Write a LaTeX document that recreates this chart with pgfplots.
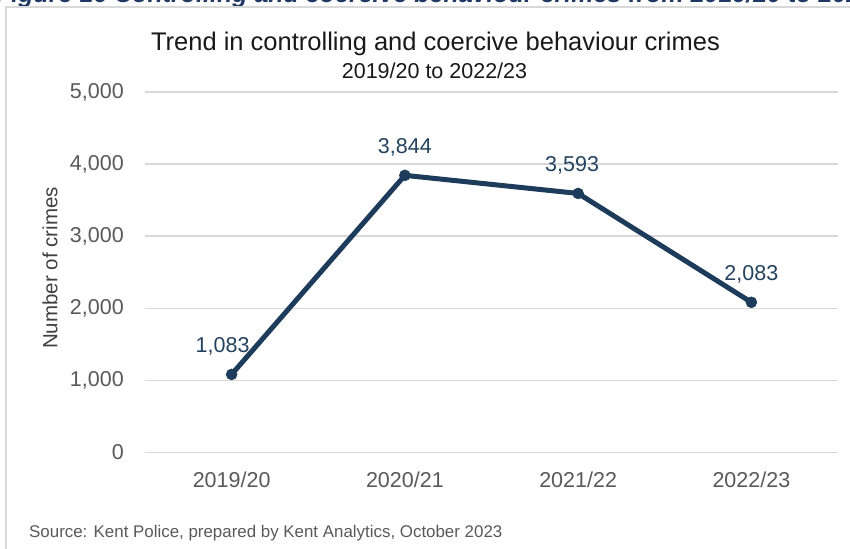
\documentclass[border=0pt]{standalone}
\usepackage{fontspec}
\setmainfont{Liberation Sans}
\usepackage{pgfplots}
\pgfplotsset{compat=1.18}
\usepackage{pgfplotstable}
\definecolor{navy}{HTML}{1D3C5B}
\definecolor{lblblue}{HTML}{24435F}
\definecolor{tickgray}{HTML}{595959}
\definecolor{labgray}{HTML}{404040}
\definecolor{gridgray}{HTML}{D9D9D9}
\definecolor{capblue}{HTML}{1F3864}
\definecolor{framegray}{HTML}{D9D9D9}

\pgfplotstableread{
x y dx
0 1083 -9
1 3844 0
2 3593 -6
3 2083 0
}\crimes

\begin{document}
\begin{tikzpicture}[x=1bp,y=1bp]
\begin{axis}[
  width=693bp, height=360.5bp, scale only axis,
  xmin=-0.5, xmax=3.5, ymin=0, ymax=5000,
  xtick={0,1,2,3}, xticklabels={2019/20,2020/21,2021/22,2022/23},
  ytick={0,1000,...,5000},
  axis line style={draw=none}, major tick length=0pt,
  ymajorgrids, grid style={gridgray, line width=1.5bp},
  /pgf/number format/1000 sep={,},
  /pgf/number format/assume math mode=true,
  yticklabel style={font=\fontsize{21.5bp}{26bp}\selectfont, text=tickgray, inner sep=0pt, anchor=east, xshift=-21bp},
  xticklabel style={font=\fontsize{21.5bp}{26bp}\selectfont, text=tickgray, inner sep=0pt, anchor=north, yshift=-19bp},
  ylabel={Number of crimes},
  ylabel style={at={(axis description cs:-0.137,0.512)}, anchor=center, font=\fontsize{20.5bp}{24bp}\selectfont, text=labgray},
  clip=false,
]
\addplot[navy, line width=5bp, mark=*, mark size=5.5bp,
  mark options={solid, fill=navy, draw=navy, line width=0.5bp},
  nodes near coords,
  visualization depends on={\thisrow{dx}\as\dx},
  nodes near coords style={font=\fontsize{21.5bp}{26bp}\selectfont, text=lblblue, anchor=center, inner sep=0pt, yshift=28bp, xshift=\dx bp}]
  table[x=x, y=y] {\crimes};
\coordinate (bl) at (rel axis cs:0,0);
\end{axis}
\pgfresetboundingbox
\begin{scope}[shift={(bl)}]
\begin{scope}[shift={(-145,-96.5)}]
\useasboundingbox (0,0) rectangle (850,549);
\begin{scope}
\clip (0,0) rectangle (850,549);
\node[anchor=base west, inner sep=0pt, text=capblue, font=\fontsize{25bp}{30bp}\selectfont\bfseries\itshape] at (-4,546) {Figure 16 Controlling and coercive behaviour crimes from 2019/20 to 2022/23};
\draw[framegray, line width=2bp] (6,-5) -- (6,541.7) -- (860,541.7);
\end{scope}
\node[anchor=base, inner sep=0pt, font=\fontsize{25.5bp}{30bp}\selectfont, text=black!90] at (435.5,498) {Trend in controlling and coercive behaviour crimes};
\node[anchor=base, inner sep=0pt, font=\fontsize{21.5bp}{26bp}\selectfont, text=black!90] at (434.5,470.7) {2019/20 to 2022/23};
\node[anchor=base west, inner sep=0pt, font=\fontsize{16.9bp}{20bp}\selectfont, text=tickgray] at (29,11) {Source: Kent Police, prepared by Kent Analytics, October 2023};
\end{scope}
\end{scope}
\end{tikzpicture}
\end{document}
